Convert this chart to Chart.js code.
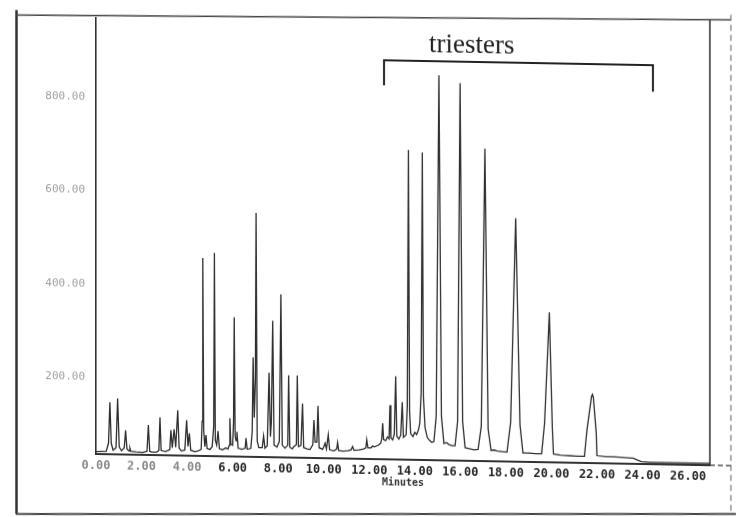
<!DOCTYPE html>
<html>
<head>
<meta charset="utf-8">
<script src="https://cdn.jsdelivr.net/npm/chart.js@4.4.1/dist/chart.umd.min.js"></script>
<style>
    html, body { margin: 0; padding: 0; background: #fff; overflow: hidden; }
    #grafico { display: block; transform: skewY(1.05deg); transform-origin: 96px 0; }
</style>
</head>
<body>
<canvas id="grafico" width="736" height="517"></canvas>
<script>
// tick labels
const xTicks = [0, 2, 4, 6, 8, 10, 12, 14, 16, 18, 20, 22, 24, 26];
const yTicks = [200, 400, 600, 800];

// detector trace, [minutes, signal]
const earlyTrace = [
    [0.00, 41], [0.45, 42], [0.55, 60], [0.61, 147], [0.67, 60], [0.75, 45],
    [0.88, 50], [0.95, 156], [1.02, 52], [1.12, 44],
    [1.24, 50], [1.30, 88], [1.36, 48], [1.45, 44], [1.49, 50], [1.53, 43],
    [1.75, 42], [2.05, 41], [2.24, 44], [2.30, 100], [2.36, 44], [2.45, 42],
    [2.65, 42], [2.76, 46], [2.81, 117], [2.86, 46], [3.05, 44],
    [3.24, 48], [3.29, 90], [3.35, 52], [3.43, 92], [3.50, 54], [3.59, 133], [3.65, 52], [3.75, 46],
    [3.90, 48], [3.98, 112], [4.04, 56], [4.10, 84], [4.16, 48], [4.35, 45], [4.50, 47]
];

const middleTrace = [
    [4.62, 50], [4.66, 110], [4.69, 460], [4.73, 90], [4.78, 56], [4.83, 81], [4.88, 52],
    [5.00, 50], [5.10, 56], [5.17, 100], [5.20, 471], [5.24, 70], [5.30, 60], [5.36, 90], [5.42, 52],
    [5.55, 50], [5.70, 54], [5.80, 52], [5.85, 60], [5.88, 118], [5.92, 62], [6.00, 60],
    [6.04, 110], [6.07, 334], [6.11, 80], [6.15, 70], [6.19, 89], [6.24, 54], [6.40, 52],
    [6.55, 54], [6.59, 76], [6.64, 52], [6.80, 54], [6.86, 90], [6.90, 249], [6.95, 120],
    [7.00, 200], [7.03, 558], [7.08, 70], [7.15, 56], [7.30, 56], [7.36, 81], [7.42, 55],
    [7.52, 60], [7.60, 217], [7.66, 80], [7.70, 110], [7.76, 328], [7.82, 62], [7.95, 58],
    [8.05, 70], [8.12, 385], [8.18, 62], [8.30, 56], [8.42, 62], [8.46, 212], [8.51, 58],
    [8.62, 55], [8.70, 60], [8.80, 64], [8.84, 212], [8.89, 60], [9.00, 62], [9.07, 152],
    [9.12, 58], [9.28, 55], [9.40, 54], [9.52, 64], [9.57, 117], [9.62, 70], [9.70, 70],
    [9.75, 148], [9.80, 58], [9.95, 55], [10.00, 60], [10.06, 68], [10.12, 56], [10.20, 86],
    [10.26, 54], [10.45, 52], [10.57, 56], [10.61, 70], [10.66, 53], [10.85, 52], [11.05, 53],
    [11.20, 55], [11.27, 62], [11.33, 54], [11.55, 55], [11.75, 57], [11.85, 60], [11.89, 77],
    [11.94, 60], [12.08, 60], [12.15, 64], [12.22, 62], [12.40, 66], [12.50, 70]
];

const triesterTrace = [
    [12.55, 80], [12.59, 113], [12.63, 78], [12.72, 76], [12.80, 84], [12.87, 80], [12.91, 152],
    [12.95, 82], [13.03, 78], [13.10, 90], [13.16, 214], [13.21, 86], [13.30, 80], [13.38, 88],
    [13.45, 159], [13.50, 84], [13.60, 88], [13.62, 90], [13.67, 150], [13.72, 699], [13.77, 140],
    [13.82, 92], [13.92, 86], [14.00, 95], [14.08, 90], [14.16, 100], [14.22, 115], [14.28, 180],
    [14.33, 694], [14.38, 170], [14.45, 105], [14.55, 84], [14.65, 78], [14.75, 74], [14.84, 76],
    [14.94, 130], [15.06, 860], [15.17, 130], [15.28, 72], [15.40, 74], [15.50, 70], [15.62, 68],
    [15.77, 68], [15.88, 120], [15.99, 844], [16.10, 120], [16.21, 64], [16.40, 62], [16.60, 60],
    [16.78, 61], [16.92, 110], [17.08, 705], [17.22, 105], [17.35, 59], [17.50, 60], [17.60, 58],
    [17.80, 57], [18.05, 56], [18.21, 120], [18.43, 557], [18.62, 115], [18.75, 55], [19.00, 55],
    [19.30, 54], [19.57, 54], [19.70, 120], [19.91, 357], [20.04, 110], [20.09, 54], [20.40, 52],
    [20.80, 51], [21.10, 50], [21.45, 50], [21.56, 106], [21.76, 178], [21.80, 183], [21.84, 178],
    [21.97, 100], [22.00, 52], [22.40, 50], [22.80, 50], [23.20, 49], [23.60, 48], [23.75, 45],
    [23.95, 41], [24.30, 40], [25.50, 40], [26.96, 40]
];

// bracket over the triester peaks, in minutes
const bracketStart = 12.65;
const bracketEnd = 24.46;
const bracketLabelAt = 16.5;

const SKEW = Math.tan(1.05 * Math.PI / 180);
const INK = '#2e2e2e';

// the scan is slightly skewed: screen point -> canvas y
function canvasY(x, y) {
    return y - (x - 96) * SKEW;
}

function linha(ctx, x1, y1, x2, y2, largura, cor, tracejado) {
    ctx.save();
    ctx.beginPath();
    ctx.lineWidth = largura;
    ctx.strokeStyle = cor;
    ctx.setLineDash(tracejado || []);
    ctx.moveTo(x1, y1);
    ctx.lineTo(x2, y2);
    ctx.stroke();
    ctx.restore();
}

const moldura = {
    id: 'moldura',
    afterDraw(chart) {
        const { ctx, chartArea: area, scales: { x } } = chart;

        // outer frame of the printout
        linha(ctx, 16.5, canvasY(16, 10), 16.5, canvasY(16, 514), 2.5, '#333');
        linha(ctx, 16, canvasY(16, 15), 731, canvasY(731, 20), 1.5, '#444');
        linha(ctx, 16, canvasY(16, 514), 736, canvasY(736, 514), 2, '#444');
        linha(ctx, 731, canvasY(731, 15), 731, canvasY(731, 514), 1.2, '#777', [6, 4]);

        // right edge of the plot and axis extension
        linha(ctx, area.right, canvasY(area.right, 20), area.right, area.bottom, 1.5, INK);
        linha(ctx, area.right, area.bottom, 733, area.bottom, 1.5, '#555', [5, 3]);

        // triesters bracket
        const x1 = x.getPixelForValue(bracketStart);
        const x2 = x.getPixelForValue(bracketEnd);
        ctx.save();
        ctx.beginPath();
        ctx.lineWidth = 2;
        ctx.strokeStyle = '#222';
        ctx.moveTo(x1, 80);
        ctx.lineTo(x1, 55);
        ctx.lineTo(x2, 55);
        ctx.lineTo(x2, 81.5);
        ctx.stroke();

        ctx.fillStyle = '#1e1e1e';
        ctx.font = '27px "Liberation Serif", serif';
        ctx.textAlign = 'center';
        ctx.textBaseline = 'alphabetic';
        const xl = x.getPixelForValue(bracketLabelAt);
        ctx.fillText('triesters', xl, canvasY(xl, 53));
        ctx.restore();
    }
};

const ctx = document.getElementById('grafico').getContext('2d');

new Chart(ctx, {
    type: 'line',
    data: {
        datasets: [{
            data: [...earlyTrace, ...middleTrace, ...triesterTrace],
            borderColor: INK,
            borderWidth: 1.3,
            pointRadius: 0,
            tension: 0,
            fill: false
        }]
    },
    options: {
        responsive: false,
        animation: false,
        layout: { padding: { left: 0, top: 15, right: 26, bottom: 0 } },
        plugins: {
            legend: { display: false },
            tooltip: { enabled: false }
        },
        scales: {
            x: {
                type: 'linear',
                min: 0,
                max: 26.96,
                afterFit: s => { s.height = 63; },
                afterBuildTicks: s => { s.ticks = xTicks.map(v => ({ value: v })); },
                grid: { display: false, drawTicks: false },
                border: { color: '#333', width: 2 },
                ticks: {
                    padding: 5,
                    autoSkip: false,
                    maxRotation: 0,
                    callback: v => Number(v).toFixed(2),
                    font: { family: '"DejaVu Sans Mono", monospace', size: 12, weight: 'bold' },
                    color: c => (c.tick && c.tick.value < 5 ? '#8c8c8c' : '#262626')
                },
                title: {
                    display: true,
                    text: 'Minutes',
                    color: '#333',
                    font: { family: '"DejaVu Sans Mono", monospace', size: 10, weight: 'bold' },
                    padding: { top: 0, bottom: 34 }
                }
            },
            y: {
                type: 'linear',
                min: 36,
                max: 970,
                afterFit: s => { s.width = 96; },
                afterBuildTicks: s => { s.ticks = yTicks.map(v => ({ value: v })); },
                grid: { display: false, drawTicks: false },
                border: { color: '#333', width: 1.6, dash: [9, 2] },
                ticks: {
                    padding: 11,
                    autoSkip: false,
                    callback: v => Number(v).toFixed(2),
                    font: { family: '"DejaVu Sans Mono", monospace', size: 11 },
                    color: '#a0a0a0'
                }
            }
        }
    },
    plugins: [moldura]
});
</script>
</body>
</html>
